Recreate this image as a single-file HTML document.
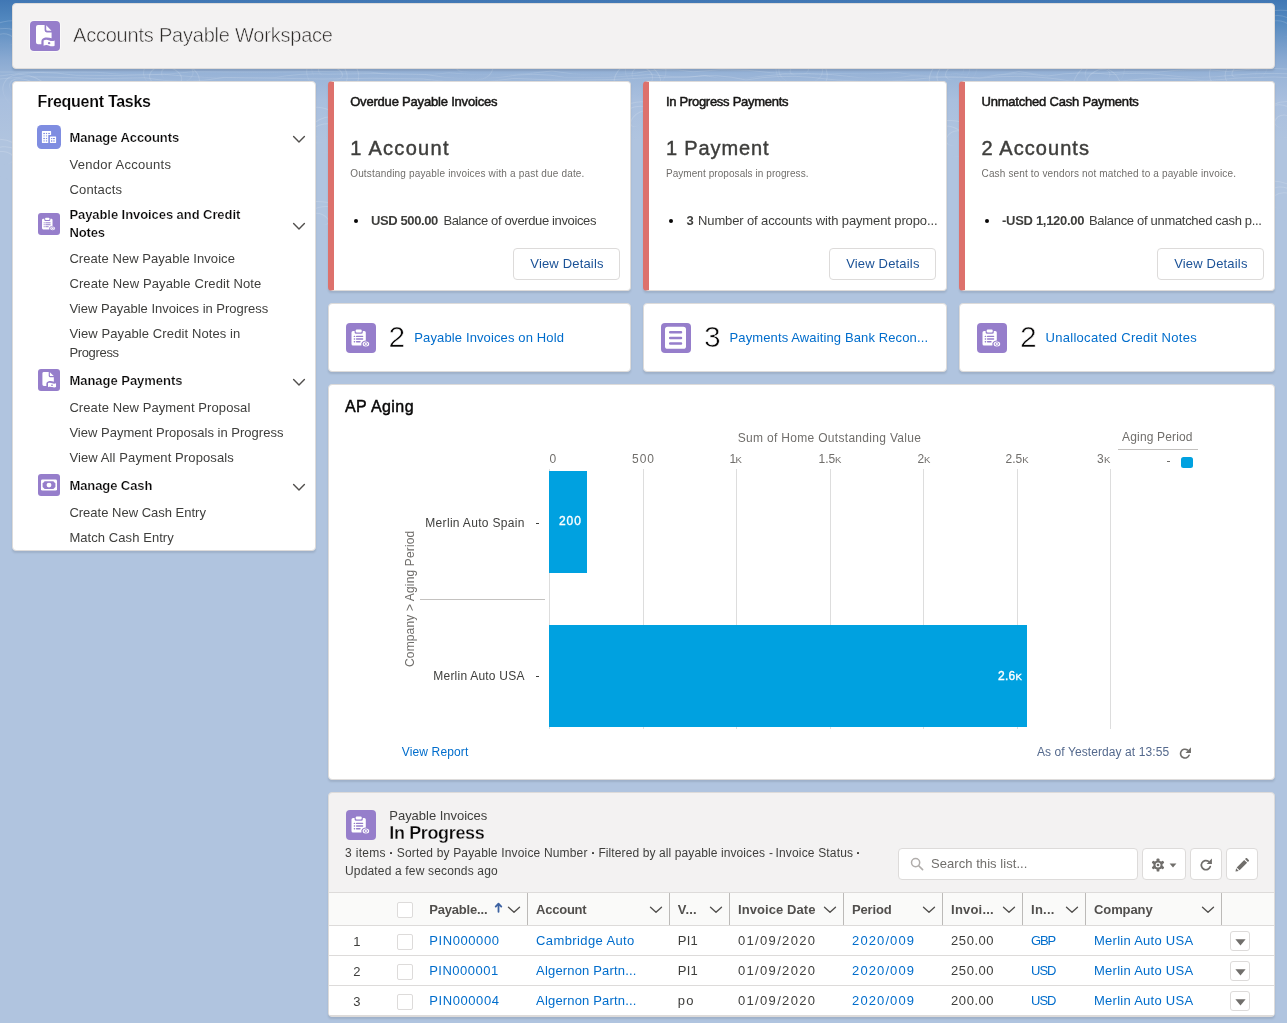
<!DOCTYPE html>
<html lang="en">
<head>
<meta charset="utf-8">
<title>Accounts Payable Workspace</title>
<style>
*{box-sizing:border-box}
html,body{margin:0;padding:0}
body{width:1287px;height:1023px;overflow:hidden;font-family:"Liberation Sans",sans-serif;color:#080707;background:#b0c4df}
#pg{position:relative;width:1287px;height:1023px;overflow:hidden;
 background:linear-gradient(180deg,#4077b4 0px,#5288bf 20px,#6f99c8 40px,#8aaad2 60px,#9db7d9 80px,#a9bfde 100px,#b0c4df 140px,#b0c4df 1023px)}
.t{position:absolute;white-space:pre;line-height:1}
.card{position:absolute;background:#fff;border:1px solid #dddbda;border-radius:4px;box-shadow:0 2px 2px 0 rgba(0,0,0,.10)}
.abs{position:absolute}
.btn{position:absolute;background:#fff;border:1px solid #dddbda;border-radius:4px}
.ic{position:absolute;border-radius:4px;overflow:hidden}
</style>
</head>
<body>
<div id="pg">
<div id="ly" style="position:absolute;left:0;top:0;width:1287px;height:1023px;will-change:transform">

<svg class="abs" style="left:0;top:0" width="1287" height="260" viewBox="0 0 1287 260"><defs><linearGradient id="fd" x1="0" y1="0" x2="0" y2="1"><stop offset="0" stop-color="#fff" stop-opacity=".16"/><stop offset=".55" stop-color="#fff" stop-opacity=".13"/><stop offset="1" stop-color="#fff" stop-opacity="0"/></linearGradient></defs><g fill="none" stroke="url(#fd)" stroke-width="1"><ellipse cx="5.4" cy="40.1" rx="9.6" ry="5.6" transform="rotate(12 8 40)"/><ellipse cx="5.2" cy="39.7" rx="18.8" ry="11.2" transform="rotate(1 8 40)"/><ellipse cx="10.0" cy="38.5" rx="26.3" ry="17.4" transform="rotate(-6 8 40)"/><ellipse cx="30.5" cy="94.6" rx="9.1" ry="7.5" transform="rotate(36 30 95)"/><ellipse cx="28.7" cy="93.6" rx="21.9" ry="11.2" transform="rotate(29 30 95)"/><ellipse cx="28.1" cy="95.3" rx="26.6" ry="18.2" transform="rotate(25 30 95)"/><ellipse cx="2.4" cy="158.2" rx="11.2" ry="6.5" transform="rotate(4 5 160)"/><ellipse cx="3.9" cy="160.3" rx="18.0" ry="13.7" transform="rotate(-6 5 160)"/><ellipse cx="6.2" cy="159.0" rx="28.3" ry="18.2" transform="rotate(24 5 160)"/><ellipse cx="171.4" cy="75.2" rx="10.9" ry="7.1" transform="rotate(30 170 76)"/><ellipse cx="171.5" cy="74.6" rx="21.9" ry="11.5" transform="rotate(-7 170 76)"/><ellipse cx="171.6" cy="76.3" rx="28.4" ry="17.2" transform="rotate(13 170 76)"/><ellipse cx="330.6" cy="72.3" rx="12.4" ry="6.3" transform="rotate(16 330 72)"/><ellipse cx="329.8" cy="72.7" rx="19.3" ry="14.4" transform="rotate(36 330 72)"/><ellipse cx="333.0" cy="73.3" rx="26.3" ry="19.8" transform="rotate(12 330 72)"/><ellipse cx="467.1" cy="59.8" rx="9.4" ry="6.5" transform="rotate(13 470 60)"/><ellipse cx="471.6" cy="58.5" rx="17.8" ry="11.5" transform="rotate(-35 470 60)"/><ellipse cx="467.5" cy="59.8" rx="27.2" ry="18.6" transform="rotate(30 470 60)"/><ellipse cx="642.2" cy="75.1" rx="10.7" ry="8.5" transform="rotate(26 640 76)"/><ellipse cx="642.7" cy="74.6" rx="19.1" ry="12.4" transform="rotate(31 640 76)"/><ellipse cx="639.9" cy="76.4" rx="26.9" ry="17.9" transform="rotate(-21 640 76)"/><ellipse cx="799.2" cy="70.3" rx="9.3" ry="5.0" transform="rotate(-6 800 70)"/><ellipse cx="800.7" cy="70.7" rx="21.8" ry="13.8" transform="rotate(1 800 70)"/><ellipse cx="802.2" cy="71.2" rx="26.3" ry="20.6" transform="rotate(22 800 70)"/><ellipse cx="955.8" cy="72.2" rx="10.0" ry="6.6" transform="rotate(-32 955 74)"/><ellipse cx="954.0" cy="72.2" rx="17.3" ry="11.8" transform="rotate(-27 955 74)"/><ellipse cx="954.2" cy="72.1" rx="26.0" ry="17.6" transform="rotate(-32 955 74)"/><ellipse cx="1098.5" cy="77.4" rx="12.4" ry="7.5" transform="rotate(-28 1100 78)"/><ellipse cx="1103.0" cy="77.9" rx="18.8" ry="11.5" transform="rotate(28 1100 78)"/><ellipse cx="1099.1" cy="77.1" rx="28.4" ry="17.3" transform="rotate(-32 1100 78)"/><ellipse cx="1242.7" cy="70.1" rx="12.1" ry="5.6" transform="rotate(-38 1240 70)"/><ellipse cx="1240.2" cy="71.9" rx="17.7" ry="13.2" transform="rotate(-38 1240 70)"/><ellipse cx="1239.2" cy="68.7" rx="30.3" ry="19.8" transform="rotate(-19 1240 70)"/><ellipse cx="1281.0" cy="28.9" rx="11.9" ry="7.1" transform="rotate(22 1282 30)"/><ellipse cx="1283.8" cy="31.3" rx="21.1" ry="14.9" transform="rotate(28 1282 30)"/><ellipse cx="1281.1" cy="28.1" rx="29.7" ry="17.9" transform="rotate(1 1282 30)"/><ellipse cx="1282.2" cy="121.8" rx="8.1" ry="6.1" transform="rotate(-19 1281 120)"/><ellipse cx="1283.7" cy="119.5" rx="19.2" ry="14.7" transform="rotate(39 1281 120)"/><ellipse cx="1279.2" cy="120.5" rx="27.1" ry="17.9" transform="rotate(-24 1281 120)"/><ellipse cx="1283.9" cy="201.2" rx="12.5" ry="8.4" transform="rotate(-2 1283 200)"/><ellipse cx="1284.7" cy="201.0" rx="17.4" ry="13.6" transform="rotate(33 1283 200)"/><ellipse cx="1282.0" cy="201.2" rx="28.4" ry="17.7" transform="rotate(23 1283 200)"/><ellipse cx="324.7" cy="130.9" rx="12.9" ry="6.6" transform="rotate(-8 322 130)"/><ellipse cx="324.4" cy="131.2" rx="17.9" ry="11.5" transform="rotate(-28 322 130)"/><ellipse cx="322.9" cy="129.4" rx="26.7" ry="20.3" transform="rotate(38 322 130)"/><ellipse cx="639.8" cy="120.6" rx="10.7" ry="5.5" transform="rotate(-39 637 120)"/><ellipse cx="639.2" cy="121.3" rx="19.6" ry="14.7" transform="rotate(-5 637 120)"/><ellipse cx="635.4" cy="120.3" rx="27.1" ry="18.0" transform="rotate(-17 637 120)"/><ellipse cx="955.5" cy="139.4" rx="9.3" ry="6.7" transform="rotate(-30 953 140)"/><ellipse cx="952.5" cy="141.7" rx="19.3" ry="13.3" transform="rotate(32 953 140)"/><ellipse cx="950.1" cy="139.8" rx="28.5" ry="19.1" transform="rotate(2 953 140)"/><ellipse cx="320.0" cy="219.9" rx="8.9" ry="5.0" transform="rotate(24 322 220)"/><ellipse cx="322.1" cy="220.2" rx="20.6" ry="13.2" transform="rotate(-14 322 220)"/><ellipse cx="320.5" cy="219.1" rx="29.9" ry="17.4" transform="rotate(5 322 220)"/><path d="M0 72 Q48 72.1 96 72.2 Q144 77.8 192 71.8 Q235 72.1 279 72.0 Q324 71.3 370 72.1 Q410 78.2 449 72.8 Q500 78.2 552 71.0 Q593 78.2 635 73.4 Q664 66.7 693 71.8 Q721 68.4 748 70.3 Q793 76.0 838 73.6 Q867 75.0 897 72.6 Q926 77.4 956 73.9 Q987 78.3 1019 71.6 Q1058 78.9 1098 73.3 Q1128 71.0 1158 72.1 Q1193 67.7 1228 71.3 Q1275 65.3 1321 72.2"/><path d="M0 76 Q38 69.3 76 75.3 Q120 76.2 164 74.3 Q218 80.0 273 77.9 Q301 72.7 329 74.2 Q378 72.8 426 74.5 Q464 81.8 501 77.3 Q534 71.1 567 77.7 Q609 78.8 651 74.4 Q678 78.6 705 75.7 Q732 82.1 759 76.5 Q808 70.2 857 77.4 Q884 81.1 911 75.8 Q946 76.7 981 77.7 Q1014 70.8 1047 76.1 Q1080 70.5 1112 74.6 Q1138 71.8 1165 75.2 Q1199 79.6 1233 75.2 Q1273 71.5 1313 75.4"/><path d="M0 79 Q26 75.5 51 77.1 Q98 79.7 145 77.8 Q184 85.1 224 77.4 Q273 78.1 323 79.0 Q373 77.5 423 79.0 Q468 85.8 514 78.4 Q564 81.9 614 79.5 Q651 76.9 688 77.2 Q717 73.0 746 80.0 Q779 74.3 811 77.3 Q862 84.2 912 79.7 Q945 75.4 979 78.2 Q1018 74.2 1056 78.8 Q1089 85.5 1122 80.9 Q1164 75.4 1205 80.9 Q1239 77.0 1274 77.0 Q1310 78.6 1346 79.0"/></g></svg>
<div class="card" style="left:12px;top:3px;width:1263px;height:66px;background:#f3f2f2"></div>
<div class="card" style="left:12px;top:81px;width:304px;height:470px"></div>
<div class="card" style="left:328px;top:81px;width:303px;height:210px;border-left:6px solid #dd716c"></div>
<div class="card" style="left:328px;top:303px;width:303px;height:69px"></div>
<div class="card" style="left:643px;top:81px;width:304px;height:210px;border-left:6px solid #dd716c"></div>
<div class="card" style="left:643px;top:303px;width:304px;height:69px"></div>
<div class="card" style="left:959px;top:81px;width:316px;height:210px;border-left:6px solid #dd716c"></div>
<div class="card" style="left:959px;top:303px;width:316px;height:69px"></div>
<div class="card" style="left:328px;top:384px;width:947px;height:396px"></div>
<div class="card" style="left:328px;top:792px;width:947px;height:225px;background:#f3f2f2;overflow:hidden" id="lv"></div>
<svg class="abs" style="left:292px;top:134.5px" width="14" height="9" viewBox="0 0 14 9"><path d="M1.6 1.5 L7 6.9 L12.4 1.5" fill="none" stroke="#514f4d" stroke-width="1.4" stroke-linecap="round" stroke-linejoin="round"/></svg>
<svg class="abs" style="left:292px;top:221.6px" width="14" height="9" viewBox="0 0 14 9"><path d="M1.6 1.5 L7 6.9 L12.4 1.5" fill="none" stroke="#514f4d" stroke-width="1.4" stroke-linecap="round" stroke-linejoin="round"/></svg>
<svg class="abs" style="left:292px;top:377.8px" width="14" height="9" viewBox="0 0 14 9"><path d="M1.6 1.5 L7 6.9 L12.4 1.5" fill="none" stroke="#514f4d" stroke-width="1.4" stroke-linecap="round" stroke-linejoin="round"/></svg>
<svg class="abs" style="left:292px;top:482.6px" width="14" height="9" viewBox="0 0 14 9"><path d="M1.6 1.5 L7 6.9 L12.4 1.5" fill="none" stroke="#514f4d" stroke-width="1.4" stroke-linecap="round" stroke-linejoin="round"/></svg>
<div class="abs" style="left:354px;top:219px;width:4px;height:4px;border-radius:50%;background:#080707"></div>
<div class="abs" style="left:668.9px;top:219px;width:4px;height:4px;border-radius:50%;background:#080707"></div>
<div class="abs" style="left:984.6px;top:219px;width:4px;height:4px;border-radius:50%;background:#080707"></div>
<div class="btn" style="left:513.3px;top:248px;width:106.7px;height:32px"></div>
<div class="btn" style="left:829.2px;top:248px;width:106.7px;height:32px"></div>
<div class="btn" style="left:1157.2px;top:248px;width:106.7px;height:32px"></div>
<div class="ic" style="left:346px;top:323px;width:30px;height:30px;background:#967ecb"><svg width="30" height="30" viewBox="0 0 30 30" style="display:block"><path fill="#fff" d="M7 7.9H8.6V9.2A1.6 1.6 0 0 0 10.2 10.8H15.2A1.6 1.6 0 0 0 16.8 9.2V7.9H18.3A1.5 1.5 0 0 1 19.8 9.4V17.6C17.8 17.6 16.2 18.6 15.4 20.2V22.4H7A1.5 1.5 0 0 1 5.5 20.9V9.4A1.5 1.5 0 0 1 7 7.9Z"/><rect x="9.7" y="6.4" width="6" height="3.2" rx="1.1" fill="#fff"/><g stroke="#967ecb" stroke-width="1.35" stroke-linecap="round"><path d="M8.3 13.4h.3M10.6 13.4h6M8.3 16h.3M10.6 16h6M8.3 18.7h.3M10.6 18.7h3.4"/></g><ellipse cx="19.9" cy="21" rx="3.3" ry="2.5" fill="#fff"/><ellipse cx="19.9" cy="21" rx="1.7" ry="1.35" fill="none" stroke="#967ecb" stroke-width=".8"/></svg></div>
<div class="ic" style="left:661px;top:323px;width:30px;height:30px;background:#967ecb"><svg width="30" height="30" viewBox="0 0 30 30" style="display:block"><rect x="4" y="3.8" width="21" height="22" rx="2.6" fill="#fff"/><g stroke="#967ecb" stroke-width="2.5" stroke-linecap="round"><path d="M9.2 9.3H20M9.2 14.9H20M9.2 20.5H20"/></g></svg></div>
<div class="ic" style="left:977px;top:323px;width:30px;height:30px;background:#967ecb"><svg width="30" height="30" viewBox="0 0 30 30" style="display:block"><path fill="#fff" d="M7 7.9H8.6V9.2A1.6 1.6 0 0 0 10.2 10.8H15.2A1.6 1.6 0 0 0 16.8 9.2V7.9H18.3A1.5 1.5 0 0 1 19.8 9.4V17.6C17.8 17.6 16.2 18.6 15.4 20.2V22.4H7A1.5 1.5 0 0 1 5.5 20.9V9.4A1.5 1.5 0 0 1 7 7.9Z"/><rect x="9.7" y="6.4" width="6" height="3.2" rx="1.1" fill="#fff"/><g stroke="#967ecb" stroke-width="1.35" stroke-linecap="round"><path d="M8.3 13.4h.3M10.6 13.4h6M8.3 16h.3M10.6 16h6M8.3 18.7h.3M10.6 18.7h3.4"/></g><ellipse cx="19.9" cy="21" rx="3.3" ry="2.5" fill="#fff"/><ellipse cx="19.9" cy="21" rx="1.7" ry="1.35" fill="none" stroke="#967ecb" stroke-width=".8"/></svg></div>
<div class="ic" style="left:30px;top:21px;width:30px;height:30px;background:#967ecb;box-shadow:0 0 0 1px rgba(255,255,255,.55)"><svg width="30" height="30" viewBox="0 0 30 30" style="display:block"><path fill="#fff" d="M8 4H14.6V9.3a2.1 2.1 0 0 0 2.1 2.1H21.6V17.3C19.4 16.4 16.2 16 13.8 16.9C12 17.6 11.4 18.9 11.4 20.6V23.2H8A2 2 0 0 1 6 21.2V6A2 2 0 0 1 8 4Z"/><path fill="#fff" d="M16.2 4.3L21.5 9.7H17.5a1.3 1.3 0 0 1-1.3-1.3Z"/><path fill="#fff" d="M13.6 19.5C15.6 18.4 17.7 18.9 19.3 19.5C20.9 20.1 22.8 20.4 24.6 19.5V24.7C22.8 25.6 20.9 25.3 19.3 24.7C17.7 24.1 15.6 23.7 13.6 24.8Z"/><ellipse cx="19.1" cy="22.2" rx="1.25" ry="1.1" fill="#967ecb"/></svg></div>
<div class="ic" style="left:37px;top:125px;width:24px;height:24px;background:#7f8de1;border-radius:4.5px"><svg width="24" height="24" viewBox="0 0 24 24" style="display:block"><path fill="#fff" d="M5.3 6H13.7A.4.4 0 0 1 14.1 6.4V10.1H11.3V18H5.3A.4.4 0 0 1 4.9 17.6V6.4A.4.4 0 0 1 5.3 6Z"/><rect x="12.9" y="11.5" width="6.2" height="6.5" rx=".5" fill="#fff"/><g fill="#7f8de1"><rect x="6.3" y="7.9" width="1.6" height="1.2"/><rect x="8.9" y="7.9" width="1.2" height="1.2"/><rect x="11.3" y="7.9" width="1.6" height="1.2"/><rect x="6.3" y="10.3" width="1.6" height="1.2" opacity=".55"/><rect x="8.9" y="10.3" width="1.2" height="1.2" opacity=".8"/><rect x="6.3" y="12.9" width="1.6" height="1.2"/><rect x="8.9" y="12.9" width="1.2" height="1.2"/><rect x="6.3" y="15.2" width="1.6" height="1.4" opacity=".6"/><rect x="8.9" y="15.2" width="1.2" height="1.4" opacity=".85"/><rect x="14.1" y="13" width="1.1" height="1.1"/><rect x="15.9" y="13" width="2" height="1.1"/><rect x="14.1" y="15" width="1.1" height="2" opacity=".8"/><rect x="15.9" y="15" width="2" height="2" opacity=".45"/></g></svg></div>
<div class="ic" style="left:38px;top:213px;width:22px;height:22px;background:#967ecb;border-radius:3px"><svg width="22" height="22" viewBox="0 0 30 30" style="display:block"><path fill="#fff" d="M7 7.9H8.6V9.2A1.6 1.6 0 0 0 10.2 10.8H15.2A1.6 1.6 0 0 0 16.8 9.2V7.9H18.3A1.5 1.5 0 0 1 19.8 9.4V17.6C17.8 17.6 16.2 18.6 15.4 20.2V22.4H7A1.5 1.5 0 0 1 5.5 20.9V9.4A1.5 1.5 0 0 1 7 7.9Z"/><rect x="9.7" y="6.4" width="6" height="3.2" rx="1.1" fill="#fff"/><g stroke="#967ecb" stroke-width="1.35" stroke-linecap="round"><path d="M8.3 13.4h.3M10.6 13.4h6M8.3 16h.3M10.6 16h6M8.3 18.7h.3M10.6 18.7h3.4"/></g><ellipse cx="19.9" cy="21" rx="3.3" ry="2.5" fill="#fff"/><ellipse cx="19.9" cy="21" rx="1.7" ry="1.35" fill="none" stroke="#967ecb" stroke-width=".8"/></svg></div>
<div class="ic" style="left:38px;top:369px;width:22px;height:22px;background:#967ecb;border-radius:3px"><svg width="22" height="22" viewBox="0 0 30 30" style="display:block"><path fill="#fff" d="M8 4H14.6V9.3a2.1 2.1 0 0 0 2.1 2.1H21.6V17.3C19.4 16.4 16.2 16 13.8 16.9C12 17.6 11.4 18.9 11.4 20.6V23.2H8A2 2 0 0 1 6 21.2V6A2 2 0 0 1 8 4Z"/><path fill="#fff" d="M16.2 4.3L21.5 9.7H17.5a1.3 1.3 0 0 1-1.3-1.3Z"/><path fill="#fff" d="M13.6 19.5C15.6 18.4 17.7 18.9 19.3 19.5C20.9 20.1 22.8 20.4 24.6 19.5V24.7C22.8 25.6 20.9 25.3 19.3 24.7C17.7 24.1 15.6 23.7 13.6 24.8Z"/><ellipse cx="19.1" cy="22.2" rx="1.25" ry="1.1" fill="#967ecb"/></svg></div>
<div class="ic" style="left:38px;top:474px;width:22px;height:22px;background:#967ecb;border-radius:3px"><svg width="22" height="22" viewBox="0 0 22 22" style="display:block"><rect x="3" y="5.6" width="16" height="11" rx="1.4" fill="#fff"/><path fill="#967ecb" d="M6.6 7.3H15.4L17.4 9.4V12.9L15.4 15H6.6L4.6 12.9V9.4Z"/><circle cx="11" cy="11.1" r="2.45" fill="#fff"/></svg></div>
<div class="abs" style="left:548.8px;top:469px;width:1px;height:260px;background:#dddddd"></div>
<div class="abs" style="left:642.8px;top:469px;width:1px;height:260px;background:#dddddd"></div>
<div class="abs" style="left:736.1px;top:469px;width:1px;height:260px;background:#dddddd"></div>
<div class="abs" style="left:829.7px;top:469px;width:1px;height:260px;background:#dddddd"></div>
<div class="abs" style="left:923.0px;top:469px;width:1px;height:260px;background:#dddddd"></div>
<div class="abs" style="left:1016.7px;top:469px;width:1px;height:260px;background:#dddddd"></div>
<div class="abs" style="left:1110.0px;top:469px;width:1px;height:260px;background:#dddddd"></div>
<div class="abs" style="left:549px;top:471px;width:37.5px;height:102px;background:#00a1e0"></div>
<div class="abs" style="left:549px;top:624.5px;width:478px;height:102.3px;background:#00a1e0"></div>
<div class="abs" style="left:535.6px;top:522.8px;width:3px;height:1.2px;background:#3e3e3c"></div>
<div class="abs" style="left:535.6px;top:676px;width:3px;height:1.2px;background:#3e3e3c"></div>
<div class="abs" style="left:420px;top:599px;width:124.5px;height:1px;background:#c4c2c0"></div>
<div class="abs" style="left:414.2px;top:667.2px;width:0;height:0;transform:rotate(-90deg);transform-origin:0 0"><span class="t" id="rot" style="left:0;top:-10.16px;font-size:12px;color:#706e6b;letter-spacing:0.15px">Company &gt; Aging Period</span></div>
<svg class="abs" style="left:1179.1px;top:746.6px" width="12.6" height="12.6" viewBox="0 0 14 14"><path d="M11.2 9.2A4.9 4.9 0 1 1 9.4 3.3" fill="none" stroke="#706e6b" stroke-width="1.8" stroke-linecap="round"/><path d="M13.3 0.4V6.6H7.2Z" fill="#706e6b"/></svg>
<div class="abs" style="left:1118px;top:448.8px;width:80px;height:1.5px;background:#c2c0be"></div>
<div class="abs" style="left:1167.4px;top:461.3px;width:3px;height:1.2px;background:#706e6b"></div>
<div class="abs" style="left:1181px;top:456.5px;width:12px;height:11.6px;border-radius:2.5px;background:#00a1e0"></div>
<div class="abs" style="left:329px;top:892px;width:945px;height:34px;background:#fafaf9;border-top:1px solid #dddbda;border-bottom:1px solid #dddbda"></div>
<div class="abs" style="left:329px;top:926px;width:945px;height:90px;background:#fff;border-radius:0 0 3px 3px"></div>
<div class="abs" style="left:329px;top:955px;width:945px;height:1px;background:#dddbda"></div>
<div class="abs" style="left:329px;top:985px;width:945px;height:1px;background:#dddbda"></div>
<div class="abs" style="left:329px;top:1015px;width:945px;height:1px;background:#dddbda"></div>
<div class="ic" style="left:346px;top:810px;width:30px;height:30px;background:#967ecb"><svg width="30" height="30" viewBox="0 0 30 30" style="display:block"><path fill="#fff" d="M7 7.9H8.6V9.2A1.6 1.6 0 0 0 10.2 10.8H15.2A1.6 1.6 0 0 0 16.8 9.2V7.9H18.3A1.5 1.5 0 0 1 19.8 9.4V17.6C17.8 17.6 16.2 18.6 15.4 20.2V22.4H7A1.5 1.5 0 0 1 5.5 20.9V9.4A1.5 1.5 0 0 1 7 7.9Z"/><rect x="9.7" y="6.4" width="6" height="3.2" rx="1.1" fill="#fff"/><g stroke="#967ecb" stroke-width="1.35" stroke-linecap="round"><path d="M8.3 13.4h.3M10.6 13.4h6M8.3 16h.3M10.6 16h6M8.3 18.7h.3M10.6 18.7h3.4"/></g><ellipse cx="19.9" cy="21" rx="3.3" ry="2.5" fill="#fff"/><ellipse cx="19.9" cy="21" rx="1.7" ry="1.35" fill="none" stroke="#967ecb" stroke-width=".8"/></svg></div>
<div class="abs" style="left:389.9px;top:851.9px;width:2.2px;height:2.2px;border-radius:.6px;background:#3e3e3c"></div>
<div class="abs" style="left:591.9px;top:851.9px;width:2.2px;height:2.2px;border-radius:.6px;background:#3e3e3c"></div>
<div class="abs" style="left:856.9px;top:851.9px;width:2.2px;height:2.2px;border-radius:.6px;background:#3e3e3c"></div>
<div class="btn" style="left:898px;top:848px;width:240px;height:32px"></div>
<svg class="abs" style="left:910px;top:857px" width="14" height="14" viewBox="0 0 14 14"><circle cx="5.6" cy="5.6" r="4.1" fill="none" stroke="#b0adab" stroke-width="1.5"/><path d="M8.7 8.7L12.6 12.6" stroke="#b0adab" stroke-width="1.6" stroke-linecap="round"/></svg>
<div class="btn" style="left:1142px;top:848px;width:44px;height:32px"></div>
<div class="btn" style="left:1190px;top:848px;width:32px;height:32px"></div>
<div class="btn" style="left:1226px;top:848px;width:32px;height:32px"></div>
<svg class="abs" style="left:1151px;top:857.5px" width="14" height="14" viewBox="0 0 14 14"><g fill="#706e6b"><circle cx="7" cy="7" r="4.6"/><rect x="5.6" y="0.4" width="2.8" height="3.4" rx=".9" transform="rotate(0 7 7)"/><rect x="5.6" y="0.4" width="2.8" height="3.4" rx=".9" transform="rotate(60 7 7)"/><rect x="5.6" y="0.4" width="2.8" height="3.4" rx=".9" transform="rotate(120 7 7)"/><rect x="5.6" y="0.4" width="2.8" height="3.4" rx=".9" transform="rotate(180 7 7)"/><rect x="5.6" y="0.4" width="2.8" height="3.4" rx=".9" transform="rotate(240 7 7)"/><rect x="5.6" y="0.4" width="2.8" height="3.4" rx=".9" transform="rotate(300 7 7)"/></g><circle cx="7" cy="7" r="2.5" fill="#fff"/><circle cx="7" cy="7" r="1.35" fill="#706e6b"/></svg>
<svg class="abs" style="left:1168.7px;top:862.8px" width="8" height="5" viewBox="0 0 8 5"><path d="M0.6 0.4H7.4L4 4.4Z" fill="#706e6b"/></svg>
<svg class="abs" style="left:1199px;top:857.9px" width="14" height="14" viewBox="0 0 14 14"><path d="M11.3 8.6A4.6 4.6 0 1 1 9.6 3.4" fill="none" stroke="#706e6b" stroke-width="1.7" stroke-linecap="round"/><path d="M12.9 0.6V5.9H7.6L9.6 3.9 10.9 2.6Z" fill="#706e6b"/></svg>
<svg class="abs" style="left:1235px;top:858.4px" width="14" height="14" viewBox="0 0 14 14"><path fill="#706e6b" d="M9.2 1.9L12.1 4.8L4.6 12.3L1.7 9.4Z M10 1.1L10.8.3a.9.9 0 0 1 1.3 0L13.7 1.9a.9.9 0 0 1 0 1.3L12.9 4Z M1.1 10.3L3.7 12.9L.5 13.5Z"/></svg>
<div class="abs" style="left:397px;top:902px;width:16px;height:16px;background:#fff;border:1px solid #dddbda;border-radius:2px"></div>
<div class="abs" style="left:397px;top:934px;width:16px;height:16px;background:#fff;border:1px solid #dddbda;border-radius:2px"></div>
<div class="abs" style="left:397px;top:964px;width:16px;height:16px;background:#fff;border:1px solid #dddbda;border-radius:2px"></div>
<div class="abs" style="left:397px;top:994px;width:16px;height:16px;background:#fff;border:1px solid #dddbda;border-radius:2px"></div>
<svg class="abs" style="left:494.3px;top:902.3px" width="9" height="11" viewBox="0 0 9 11"><path d="M4.5 9.8V2M1.7 4.6L4.5 1.6L7.3 4.6" fill="none" stroke="#3c62a2" stroke-width="1.8" stroke-linecap="round" stroke-linejoin="round"/></svg>
<svg class="abs" style="left:507.20000000000005px;top:905.4px" width="14" height="9" viewBox="0 0 14 9"><path d="M1.5 2.2L7 7.2L12.5 2.2" fill="none" stroke="#514f4d" stroke-width="1.35" stroke-linecap="round" stroke-linejoin="round"/></svg>
<div class="abs" style="left:526.9px;top:893px;width:1px;height:32px;background:#bcbab8"></div>
<svg class="abs" style="left:649px;top:905.4px" width="14" height="9" viewBox="0 0 14 9"><path d="M1.5 2.2L7 7.2L12.5 2.2" fill="none" stroke="#514f4d" stroke-width="1.35" stroke-linecap="round" stroke-linejoin="round"/></svg>
<div class="abs" style="left:668.8px;top:893px;width:1px;height:32px;background:#bcbab8"></div>
<svg class="abs" style="left:709.2px;top:905.4px" width="14" height="9" viewBox="0 0 14 9"><path d="M1.5 2.2L7 7.2L12.5 2.2" fill="none" stroke="#514f4d" stroke-width="1.35" stroke-linecap="round" stroke-linejoin="round"/></svg>
<div class="abs" style="left:729.0px;top:893px;width:1px;height:32px;background:#bcbab8"></div>
<svg class="abs" style="left:822.9px;top:905.4px" width="14" height="9" viewBox="0 0 14 9"><path d="M1.5 2.2L7 7.2L12.5 2.2" fill="none" stroke="#514f4d" stroke-width="1.35" stroke-linecap="round" stroke-linejoin="round"/></svg>
<div class="abs" style="left:842.9px;top:893px;width:1px;height:32px;background:#bcbab8"></div>
<svg class="abs" style="left:922.2px;top:905.4px" width="14" height="9" viewBox="0 0 14 9"><path d="M1.5 2.2L7 7.2L12.5 2.2" fill="none" stroke="#514f4d" stroke-width="1.35" stroke-linecap="round" stroke-linejoin="round"/></svg>
<div class="abs" style="left:942.1px;top:893px;width:1px;height:32px;background:#bcbab8"></div>
<svg class="abs" style="left:1002.3px;top:905.4px" width="14" height="9" viewBox="0 0 14 9"><path d="M1.5 2.2L7 7.2L12.5 2.2" fill="none" stroke="#514f4d" stroke-width="1.35" stroke-linecap="round" stroke-linejoin="round"/></svg>
<div class="abs" style="left:1022.2px;top:893px;width:1px;height:32px;background:#bcbab8"></div>
<svg class="abs" style="left:1065.1px;top:905.4px" width="14" height="9" viewBox="0 0 14 9"><path d="M1.5 2.2L7 7.2L12.5 2.2" fill="none" stroke="#514f4d" stroke-width="1.35" stroke-linecap="round" stroke-linejoin="round"/></svg>
<div class="abs" style="left:1085.1px;top:893px;width:1px;height:32px;background:#bcbab8"></div>
<svg class="abs" style="left:1200.8px;top:905.4px" width="14" height="9" viewBox="0 0 14 9"><path d="M1.5 2.2L7 7.2L12.5 2.2" fill="none" stroke="#514f4d" stroke-width="1.35" stroke-linecap="round" stroke-linejoin="round"/></svg>
<div class="abs" style="left:1221.1px;top:893px;width:1px;height:32px;background:#bcbab8"></div>
<div class="btn" style="left:1230px;top:931px;width:20px;height:20px;border-radius:3px"></div>
<svg class="abs" style="left:1234.5px;top:938.5px" width="11" height="7" viewBox="0 0 11 7"><path d="M0.4 0.3H10.6L5.5 6.6Z" fill="#706e6b"/></svg>
<div class="btn" style="left:1230px;top:961px;width:20px;height:20px;border-radius:3px"></div>
<svg class="abs" style="left:1234.5px;top:968.5px" width="11" height="7" viewBox="0 0 11 7"><path d="M0.4 0.3H10.6L5.5 6.6Z" fill="#706e6b"/></svg>
<div class="btn" style="left:1230px;top:991px;width:20px;height:20px;border-radius:3px"></div>
<svg class="abs" style="left:1234.5px;top:998.5px" width="11" height="7" viewBox="0 0 11 7"><path d="M0.4 0.3H10.6L5.5 6.6Z" fill="#706e6b"/></svg>
<span class="t" style="left:73.00px;top:25.27px;font-size:20px;color:#2b2826;letter-spacing:-0.213px;-webkit-text-stroke:0.55px #f3f2f2;">Accounts Payable Workspace</span>
<span class="t" style="left:37.50px;top:93.56px;font-size:16px;font-weight:700;letter-spacing:-0.275px;-webkit-text-stroke:0.15px #fff;">Frequent Tasks</span>
<span class="t" style="left:69.40px;top:131.10px;font-size:13px;font-weight:700;letter-spacing:-0.069px;-webkit-text-stroke:0.22px #fff;">Manage Accounts</span>
<span class="t" style="left:69.40px;top:208.10px;font-size:13px;font-weight:700;letter-spacing:-0.069px;-webkit-text-stroke:0.22px #fff;">Payable Invoices and Credit</span>
<span class="t" style="left:69.40px;top:226.30px;font-size:13px;font-weight:700;letter-spacing:-0.106px;-webkit-text-stroke:0.22px #fff;">Notes</span>
<span class="t" style="left:69.40px;top:373.60px;font-size:13px;font-weight:700;letter-spacing:-0.024px;-webkit-text-stroke:0.22px #fff;">Manage Payments</span>
<span class="t" style="left:69.40px;top:478.70px;font-size:13px;font-weight:700;letter-spacing:-0.081px;-webkit-text-stroke:0.22px #fff;">Manage Cash</span>
<span class="t" style="left:69.40px;top:157.90px;font-size:13px;color:#3e3e3c;letter-spacing:0.287px;">Vendor Accounts</span>
<span class="t" style="left:69.40px;top:183.10px;font-size:13px;color:#3e3e3c;letter-spacing:0.184px;">Contacts</span>
<span class="t" style="left:69.40px;top:251.90px;font-size:13px;color:#3e3e3c;letter-spacing:0.059px;">Create New Payable Invoice</span>
<span class="t" style="left:69.40px;top:277.10px;font-size:13px;color:#3e3e3c;letter-spacing:0.114px;">Create New Payable Credit Note</span>
<span class="t" style="left:69.40px;top:302.00px;font-size:13px;color:#3e3e3c;letter-spacing:-0.009px;">View Payable Invoices in Progress</span>
<span class="t" style="left:69.40px;top:326.50px;font-size:13px;color:#3e3e3c;letter-spacing:0.103px;">View Payable Credit Notes in</span>
<span class="t" style="left:69.40px;top:345.50px;font-size:13px;color:#3e3e3c;letter-spacing:-0.333px;">Progress</span>
<span class="t" style="left:69.40px;top:401.00px;font-size:13px;color:#3e3e3c;letter-spacing:0.093px;">Create New Payment Proposal</span>
<span class="t" style="left:69.40px;top:425.80px;font-size:13px;color:#3e3e3c;letter-spacing:0.011px;">View Payment Proposals in Progress</span>
<span class="t" style="left:69.40px;top:451.10px;font-size:13px;color:#3e3e3c;letter-spacing:0.111px;">View All Payment Proposals</span>
<span class="t" style="left:69.40px;top:505.90px;font-size:13px;color:#3e3e3c;">Create New Cash Entry</span>
<span class="t" style="left:69.40px;top:530.90px;font-size:13px;color:#3e3e3c;letter-spacing:0.071px;">Match Cash Entry</span>
<span class="t" style="left:350.20px;top:95.00px;font-size:13px;color:#181716;letter-spacing:-0.194px;-webkit-text-stroke:0.5px #181716;">Overdue Payable Invoices</span>
<span class="t" style="left:350.20px;top:137.87px;font-size:20px;color:#3e3e3c;letter-spacing:1.307px;-webkit-text-stroke:0.45px #3e3e3c;">1 Account</span>
<span class="t" style="left:350.20px;top:168.53px;font-size:10px;color:#706e6b;letter-spacing:0.173px;">Outstanding payable invoices with a past due date.</span>
<span class="t" style="left:665.90px;top:95.00px;font-size:13px;color:#181716;letter-spacing:-0.278px;-webkit-text-stroke:0.5px #181716;">In Progress Payments</span>
<span class="t" style="left:665.90px;top:137.87px;font-size:20px;color:#3e3e3c;letter-spacing:0.874px;-webkit-text-stroke:0.45px #3e3e3c;">1 Payment</span>
<span class="t" style="left:665.90px;top:168.53px;font-size:10px;color:#706e6b;letter-spacing:0.068px;">Payment proposals in progress.</span>
<span class="t" style="left:981.50px;top:95.00px;font-size:13px;color:#181716;letter-spacing:-0.207px;-webkit-text-stroke:0.5px #181716;">Unmatched Cash Payments</span>
<span class="t" style="left:981.50px;top:137.87px;font-size:20px;color:#3e3e3c;letter-spacing:1.073px;-webkit-text-stroke:0.45px #3e3e3c;">2 Accounts</span>
<span class="t" style="left:981.50px;top:168.53px;font-size:10px;color:#706e6b;letter-spacing:0.155px;">Cash sent to vendors not matched to a payable invoice.</span>
<span class="t" style="left:371.10px;top:213.80px;font-size:13px;font-weight:700;color:#3e3e3c;letter-spacing:-0.403px;">USD 500.00</span>
<span class="t" style="left:443.40px;top:213.80px;font-size:13px;color:#3e3e3c;letter-spacing:-0.366px;">Balance of overdue invoices</span>
<span class="t" style="left:686.50px;top:213.80px;font-size:13px;font-weight:700;color:#3e3e3c;">3</span>
<span class="t" style="left:698.00px;top:213.80px;font-size:13px;color:#3e3e3c;letter-spacing:-0.121px;">Number of accounts with payment propo...</span>
<span class="t" style="left:1002.00px;top:213.80px;font-size:13px;font-weight:700;color:#3e3e3c;letter-spacing:-0.292px;">-USD 1,120.00</span>
<span class="t" style="left:1089.00px;top:213.80px;font-size:13px;color:#3e3e3c;letter-spacing:-0.315px;">Balance of unmatched cash p...</span>
<span class="t" style="left:530.30px;top:257.00px;font-size:13px;color:#1b5297;letter-spacing:0.173px;">View Details</span>
<span class="t" style="left:846.20px;top:257.00px;font-size:13px;color:#1b5297;letter-spacing:0.173px;">View Details</span>
<span class="t" style="left:1174.20px;top:257.00px;font-size:13px;color:#1b5297;letter-spacing:0.173px;">View Details</span>
<span class="t" style="left:388.60px;top:321.81px;font-size:30px;-webkit-text-stroke:0.6px #fff;">2</span>
<span class="t" style="left:414.30px;top:331.40px;font-size:13px;color:#006dcc;letter-spacing:0.126px;">Payable Invoices on Hold</span>
<span class="t" style="left:704.10px;top:321.81px;font-size:30px;-webkit-text-stroke:0.6px #fff;">3</span>
<span class="t" style="left:729.50px;top:331.40px;font-size:13px;color:#006dcc;letter-spacing:0.121px;">Payments Awaiting Bank Recon...</span>
<span class="t" style="left:1020.00px;top:321.81px;font-size:30px;-webkit-text-stroke:0.6px #fff;">2</span>
<span class="t" style="left:1045.50px;top:331.40px;font-size:13px;color:#006dcc;letter-spacing:0.290px;">Unallocated Credit Notes</span>
<span class="t" style="left:345.00px;top:398.56px;font-size:16px;letter-spacing:0.436px;-webkit-text-stroke:0.45px #080707;">AP Aging</span>
<span class="t" style="left:737.70px;top:431.64px;font-size:12px;color:#706e6b;letter-spacing:0.313px;">Sum of Home Outstanding Value</span>
<span class="t" style="left:549.50px;top:452.64px;font-size:12px;color:#706e6b;">0</span>
<span class="t" style="left:632.10px;top:452.64px;font-size:12px;color:#706e6b;letter-spacing:0.934px;">500</span>
<span class="t" style="left:729.60px;top:452.64px;font-size:12px;color:#706e6b;letter-spacing:-0.794px;">1<span style="font-size:9.6px">K</span></span>
<span class="t" style="left:818.60px;top:452.64px;font-size:12px;color:#706e6b;letter-spacing:-0.098px;">1.5<span style="font-size:9.6px">K</span></span>
<span class="t" style="left:917.50px;top:452.64px;font-size:12px;color:#706e6b;letter-spacing:-0.294px;">2<span style="font-size:9.6px">K</span></span>
<span class="t" style="left:1005.40px;top:452.64px;font-size:12px;color:#706e6b;letter-spacing:0.069px;">2.5<span style="font-size:9.6px">K</span></span>
<span class="t" style="left:1097.00px;top:452.64px;font-size:12px;color:#706e6b;letter-spacing:0.406px;">3<span style="font-size:9.6px">K</span></span>
<span class="t" style="left:558.90px;top:515.44px;font-size:12px;color:#fff;letter-spacing:1.034px;-webkit-text-stroke:0.35px #fff;">200</span>
<span class="t" style="left:998.00px;top:669.64px;font-size:12px;color:#fff;letter-spacing:0.235px;-webkit-text-stroke:0.35px #fff;">2.6<span style="font-size:9.6px">K</span></span>
<span class="t" style="left:425.30px;top:516.64px;font-size:12px;color:#3e3e3c;letter-spacing:0.315px;">Merlin Auto Spain</span>
<span class="t" style="left:433.30px;top:669.84px;font-size:12px;color:#3e3e3c;letter-spacing:0.218px;">Merlin Auto USA</span>
<span class="t" style="left:401.80px;top:745.64px;font-size:12px;color:#006dcc;letter-spacing:0.134px;">View Report</span>
<span class="t" style="left:1036.90px;top:745.84px;font-size:12px;color:#54698d;letter-spacing:0.091px;">As of Yesterday at 13:55</span>
<span class="t" style="left:1122.10px;top:430.74px;font-size:12px;color:#706e6b;letter-spacing:0.153px;">Aging Period</span>
<span class="t" style="left:389.30px;top:808.50px;font-size:13px;color:#3e3e3c;letter-spacing:-0.025px;">Payable Invoices</span>
<span class="t" style="left:389.30px;top:823.76px;font-size:18px;font-weight:700;letter-spacing:-0.365px;-webkit-text-stroke:0.3px #f3f2f2;">In Progress</span>
<span class="t" style="left:345.00px;top:846.64px;font-size:12px;color:#3e3e3c;letter-spacing:0.319px;">3 items</span>
<span class="t" style="left:396.80px;top:846.64px;font-size:12px;color:#3e3e3c;letter-spacing:0.167px;">Sorted by Payable Invoice Number</span>
<span class="t" style="left:598.40px;top:846.64px;font-size:12px;color:#3e3e3c;letter-spacing:0.103px;">Filtered by all payable invoices</span>
<span class="t" style="left:768.90px;top:846.64px;font-size:12px;color:#3e3e3c;">-</span>
<span class="t" style="left:775.50px;top:846.64px;font-size:12px;color:#3e3e3c;letter-spacing:0.163px;">Invoice Status</span>
<span class="t" style="left:345.00px;top:864.84px;font-size:12px;color:#3e3e3c;letter-spacing:0.163px;">Updated a few seconds ago</span>
<span class="t" style="left:931.00px;top:856.90px;font-size:13px;color:#706e6b;letter-spacing:0.057px;">Search this list...</span>
<span class="t" style="left:429.20px;top:902.60px;font-size:13px;font-weight:700;color:#514f4d;letter-spacing:-0.176px;">Payable...</span>
<span class="t" style="left:536.10px;top:902.60px;font-size:13px;font-weight:700;color:#514f4d;letter-spacing:-0.250px;">Account</span>
<span class="t" style="left:677.80px;top:902.60px;font-size:13px;font-weight:700;color:#514f4d;letter-spacing:0.191px;">V...</span>
<span class="t" style="left:738.00px;top:902.60px;font-size:13px;font-weight:700;color:#514f4d;letter-spacing:0.082px;">Invoice Date</span>
<span class="t" style="left:852.10px;top:902.60px;font-size:13px;font-weight:700;color:#514f4d;letter-spacing:-0.194px;">Period</span>
<span class="t" style="left:951.10px;top:902.60px;font-size:13px;font-weight:700;color:#514f4d;letter-spacing:0.190px;">Invoi...</span>
<span class="t" style="left:1031.10px;top:902.60px;font-size:13px;font-weight:700;color:#514f4d;letter-spacing:0.227px;">In...</span>
<span class="t" style="left:1094.00px;top:902.60px;font-size:13px;font-weight:700;color:#514f4d;letter-spacing:-0.089px;">Company</span>
<span class="t" style="left:353.30px;top:934.50px;font-size:13px;color:#3e3e3c;">1</span>
<span class="t" style="left:429.20px;top:933.80px;font-size:13px;color:#006dcc;letter-spacing:0.592px;">PIN000000</span>
<span class="t" style="left:536.10px;top:933.80px;font-size:13px;color:#006dcc;letter-spacing:0.382px;">Cambridge Auto</span>
<span class="t" style="left:677.80px;top:933.80px;font-size:13px;color:#3e3e3c;letter-spacing:0.192px;">PI1</span>
<span class="t" style="left:738.00px;top:933.80px;font-size:13px;color:#3e3e3c;letter-spacing:1.325px;">01/09/2020</span>
<span class="t" style="left:852.10px;top:933.80px;font-size:13px;color:#006dcc;letter-spacing:1.095px;">2020/009</span>
<span class="t" style="left:951.10px;top:933.80px;font-size:13px;color:#3e3e3c;letter-spacing:0.547px;">250.00</span>
<span class="t" style="left:1031.10px;top:933.80px;font-size:13px;color:#006dcc;letter-spacing:-1.184px;">GBP</span>
<span class="t" style="left:1094.00px;top:933.80px;font-size:13px;color:#006dcc;letter-spacing:0.266px;">Merlin Auto USA</span>
<span class="t" style="left:353.30px;top:964.55px;font-size:13px;color:#3e3e3c;">2</span>
<span class="t" style="left:429.20px;top:963.85px;font-size:13px;color:#006dcc;letter-spacing:0.505px;">PIN000001</span>
<span class="t" style="left:536.10px;top:963.85px;font-size:13px;color:#006dcc;letter-spacing:0.165px;">Algernon Partn...</span>
<span class="t" style="left:677.80px;top:963.85px;font-size:13px;color:#3e3e3c;letter-spacing:0.192px;">PI1</span>
<span class="t" style="left:738.00px;top:963.85px;font-size:13px;color:#3e3e3c;letter-spacing:1.325px;">01/09/2020</span>
<span class="t" style="left:852.10px;top:963.85px;font-size:13px;color:#006dcc;letter-spacing:1.095px;">2020/009</span>
<span class="t" style="left:951.10px;top:963.85px;font-size:13px;color:#3e3e3c;letter-spacing:0.547px;">250.00</span>
<span class="t" style="left:1031.10px;top:963.85px;font-size:13px;color:#006dcc;letter-spacing:-1.027px;">USD</span>
<span class="t" style="left:1094.00px;top:963.85px;font-size:13px;color:#006dcc;letter-spacing:0.266px;">Merlin Auto USA</span>
<span class="t" style="left:353.30px;top:994.60px;font-size:13px;color:#3e3e3c;">3</span>
<span class="t" style="left:429.20px;top:993.90px;font-size:13px;color:#006dcc;letter-spacing:0.592px;">PIN000004</span>
<span class="t" style="left:536.10px;top:993.90px;font-size:13px;color:#006dcc;letter-spacing:0.165px;">Algernon Partn...</span>
<span class="t" style="left:677.80px;top:993.90px;font-size:13px;color:#3e3e3c;letter-spacing:1.231px;">po</span>
<span class="t" style="left:738.00px;top:993.90px;font-size:13px;color:#3e3e3c;letter-spacing:1.325px;">01/09/2020</span>
<span class="t" style="left:852.10px;top:993.90px;font-size:13px;color:#006dcc;letter-spacing:1.095px;">2020/009</span>
<span class="t" style="left:951.10px;top:993.90px;font-size:13px;color:#3e3e3c;letter-spacing:0.547px;">200.00</span>
<span class="t" style="left:1031.10px;top:993.90px;font-size:13px;color:#006dcc;letter-spacing:-1.027px;">USD</span>
<span class="t" style="left:1094.00px;top:993.90px;font-size:13px;color:#006dcc;letter-spacing:0.266px;">Merlin Auto USA</span>
</div>
</div>
</body>
</html>
